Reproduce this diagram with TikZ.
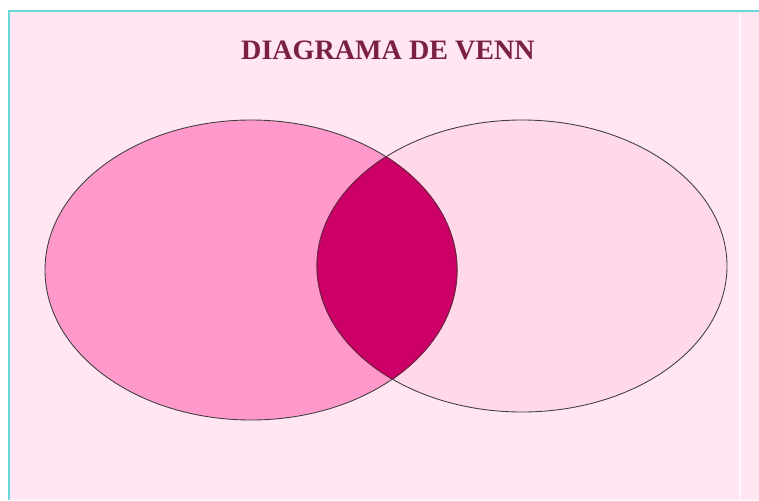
\documentclass[tikz,border=0pt]{standalone}
\usepackage{fontspec}
\setmainfont{Liberation Serif}
\definecolor{vnBack}{HTML}{FFE6F2}
\definecolor{vnLeft}{HTML}{FF99CC}
\definecolor{vnRight}{HTML}{FFD9EA}
\definecolor{vnCore}{HTML}{CC0066}
\definecolor{vnTitle}{HTML}{7A1F45}
\definecolor{vnEdge}{HTML}{66D8D8}
\tikzset{
  vn outline/.style={draw=black!75, line width=0.5pt},
  vn frame/.style={draw=vnEdge, line width=1.6pt},
  vn title/.style={font=\bfseries\fontsize{16}{18}\selectfont, text=vnTitle},
}

\begin{document}
\begin{tikzpicture}[x=0.02cm, y=-0.02cm]
  % Page and pink panel
  \useasboundingbox (0,0) rectangle (759,500);
  \fill[white] (0,0) rectangle (759,500);
  \fill[vnBack] (9,11) rectangle (759,500);
  \draw[vn frame] (9,500) -- (9,11) -- (759,11);
  \draw[white!60!vnBack, line width=1pt] (740,14) -- (740,500);

  % Title
  \node[vn title] (title) at (388,50) {DIAGRAMA DE VENN};

  % Two sets
  \fill[vnRight] (522,266) ellipse (205 and 146);
  \fill[vnLeft] (251,270) ellipse (206 and 150);
  \draw[vn outline] (251,270) ellipse (206 and 150);
  \draw[vn outline] (522,266) ellipse (205 and 146);

  % Overlap
  \begin{scope}
    \clip (251,270) ellipse (206 and 150);
    \fill[vnCore] (522,266) ellipse (205 and 146);
    \draw[vnTitle, line width=0.6pt] (522,266) ellipse (205 and 146);
  \end{scope}
  \begin{scope}
    \clip (522,266) ellipse (205 and 146);
    \draw[vnTitle, line width=0.6pt] (251,270) ellipse (206 and 150);
  \end{scope}
\end{tikzpicture}
\end{document}
